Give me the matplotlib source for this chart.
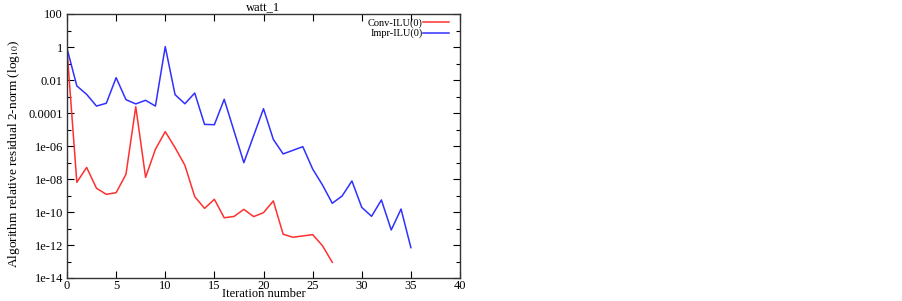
import numpy as np
import matplotlib
matplotlib.use('Agg')
import matplotlib.pyplot as plt
from matplotlib.ticker import FixedLocator, FixedFormatter

# log10 of residuals
conv_log = [-0.15, -8.2, -7.30, -8.56, -8.93, -8.83, -7.72, -3.62, -7.90, -6.2,
            -5.13, -6.1, -7.17, -9.07, -9.78, -9.23, -10.35, -10.27, -9.84, -10.28,
            -10.04, -9.33, -11.35, -11.53, -11.45, -11.37, -12.04, -13.05]
impr_log = [-0.08, -2.36, -2.87, -3.58, -3.41, -1.86, -3.19, -3.45, -3.23, -3.58,
            0.02, -2.89, -3.44, -2.79, -4.69, -4.71, -3.17, -5.09, -7.01, -5.37,
            -3.74, -5.6, -6.48, -6.26, -6.04, -7.39, -8.36, -9.47, -9.03, -8.12,
            -9.72, -10.26, -9.27, -11.09, -9.82, -12.16]

conv_it = np.arange(len(conv_log))
impr_it = np.arange(len(impr_log))

ytick_vals = [1e2, 1, 1e-2, 1e-4, 1e-6, 1e-8, 1e-10, 1e-12, 1e-14]
ytick_labels = ['100', '1', '0.01', '0.0001', '1e-06', '1e-08', '1e-10', '1e-12', '1e-14']

plt.rcParams['font.family'] = ['Liberation Serif', 'DejaVu Serif']
plt.rcParams['mathtext.fontset'] = 'stix'

fig = plt.figure(figsize=(9.02, 3.01), dpi=100)
ax = fig.add_axes([67/902, 1-278/301, (460-67)/902, (278-14)/301])

ax.plot(conv_it, 10.0**np.array(conv_log), color='#ff3030', lw=1.1, label='Conv-ILU(0)')
ax.plot(impr_it, 10.0**np.array(impr_log), color='#3030ff', lw=1.1, label='Impr-ILU(0)')

ax.set_yscale('log')
ax.set_ylim(1e-14, 1e2)
ax.set_xlim(0, 40)
ax.yaxis.set_major_locator(FixedLocator(ytick_vals))
ax.yaxis.set_major_formatter(FixedFormatter(ytick_labels))
ax.yaxis.set_minor_locator(FixedLocator([10.0**k for k in range(-13, 2, 2)]))
ax.yaxis.set_minor_formatter(FixedFormatter([]))
ax.set_xticks(range(0, 41, 5))

ax.tick_params(which='both', direction='in', top=True, right=True, labelsize=9, pad=3)
ax.tick_params(axis='x', pad=1.5)
ax.tick_params(which='major', length=5, width=0.8)
ax.tick_params(which='minor', length=3, width=0.8)
for s in ax.spines.values():
    s.set_linewidth(1.0)
    s.set_color('#333333')

ax.set_title('watt_1', fontsize=9, pad=3)
ax.set_xlabel('Iteration number', fontsize=9, va='baseline')
ax.xaxis.set_label_coords(0.5, -0.073)
ax.set_ylabel('Algorithm relative residual 2-norm (log$_{10}$)', fontsize=9.6)
ax.yaxis.set_label_coords(-0.115, 0.47)

leg = ax.legend(loc='upper right', frameon=False, fontsize=7.5, handlelength=2.5,
                markerfirst=False, labelspacing=0.1, borderaxespad=0.0,
                handletextpad=0.05, borderpad=0.0, bbox_to_anchor=(0.972, 0.984))

fig.savefig('out.png', dpi=100)
